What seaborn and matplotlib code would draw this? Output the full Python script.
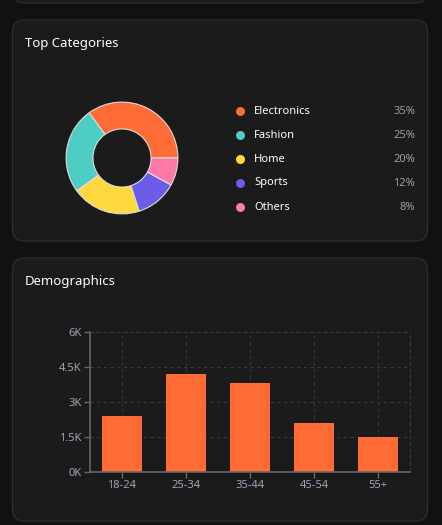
import matplotlib
matplotlib.use('Agg')
import matplotlib.pyplot as plt
from matplotlib.patches import FancyBboxPatch
import seaborn as sns
import pandas as pd

# data
categories = ['Electronics', 'Fashion', 'Home', 'Sports', 'Others']
shares = [35, 25, 20, 12, 8]
cat_colors = ['#FF6B35', '#4ECDC4', '#FFD93D', '#6C5CE7', '#FD79A8']

age_groups = ['18-24', '25-34', '35-44', '45-54', '55+']
users = [2400, 4200, 3800, 2100, 1500]
y_ticks = [0, 1500, 3000, 4500, 6000]
y_labels = ['0K', '1.5K', '3K', '4.5K', '6K']

sns.set_theme(style='dark')
plt.rcParams['font.family'] = ['Noto Sans', 'DejaVu Sans']

W, H = 442, 525
fig = plt.figure(figsize=(W / 100, H / 100), dpi=100)
fig.patch.set_facecolor('#111111')

def frac(x0, y0, x1, y1):
    # pixel box (top-left origin) -> figure fraction rect
    return [x0 / W, 1 - y1 / H, (x1 - x0) / W, (y1 - y0) / H]

# background axes in pixel coordinates for cards and texts
bg = fig.add_axes([0, 0, 1, 1], zorder=0)
bg.set_xlim(0, W)
bg.set_ylim(H, 0)
bg.axis('off')

for (y0, y1) in [(-30, 3), (20, 241), (258, 521)]:
    card = FancyBboxPatch((12.5, y0), 415, y1 - y0, boxstyle='round,pad=0,rounding_size=12',
                          facecolor='#1b1b1b', edgecolor='#2b2b2b', linewidth=1)
    bg.add_patch(card)

bg.text(25, 44, 'Top Categories', color='white', fontsize=9.5, va='center', ha='left')
bg.text(25, 282, 'Demographics', color='white', fontsize=9.5, va='center', ha='left')

# legend rows
for i, (name, val, col) in enumerate(zip(categories, shares, cat_colors)):
    yy = 111 + 24 * i
    bg.scatter([240], [yy], s=42, color=col, linewidths=0)
    bg.text(254, yy, name, color='white', fontsize=8, va='center', ha='left')
    bg.text(415, yy, f'{val}%', color='#9a9fa6', fontsize=8, va='center', ha='right')

# donut
ax1 = fig.add_axes(frac(65, 101, 179, 215), zorder=1)
ax1.pie(shares, colors=cat_colors, startangle=0, counterclock=True, radius=1,
        wedgeprops=dict(width=0.48, edgecolor='#dddddd', linewidth=0.8))
ax1.set_xlim(-1.02, 1.02)
ax1.set_ylim(-1.02, 1.02)
ax1.set_aspect('equal')
ax1.axis('off')

# bar chart
ax2 = fig.add_axes(frac(90, 332, 410, 472), zorder=1)
ax2.set_facecolor('none')
df = pd.DataFrame({'age': age_groups, 'users': users})
sns.barplot(data=df, x='age', y='users', color='#FF6B35', saturation=1, width=0.62,
            linewidth=0, ax=ax2)
ax2.set_ylim(0, 6000)
ax2.set_xlim(-0.5, len(age_groups) - 0.5)
ax2.set_yticks(y_ticks)
ax2.set_yticklabels(y_labels)
ax2.set_xlabel('')
ax2.set_ylabel('')
ax2.grid(True, color='#3a3a3a', linestyle=(0, (3, 3)), linewidth=0.8)
ax2.set_axisbelow(True)
for side in ['top', 'right']:
    ax2.spines[side].set_visible(True)
    ax2.spines[side].set_color('#3a3a3a')
    ax2.spines[side].set_linestyle((0, (3, 3)))
    ax2.spines[side].set_linewidth(0.8)
for side in ['left', 'bottom']:
    ax2.spines[side].set_color('#666666')
    ax2.spines[side].set_linewidth(1.2)
ax2.tick_params(axis='both', colors='#666666', labelcolor='#9aa5b4', labelsize=8,
                length=4, width=1, pad=2, direction='out', bottom=True, left=True)

fig.savefig('out.png', dpi=100, facecolor=fig.get_facecolor())
